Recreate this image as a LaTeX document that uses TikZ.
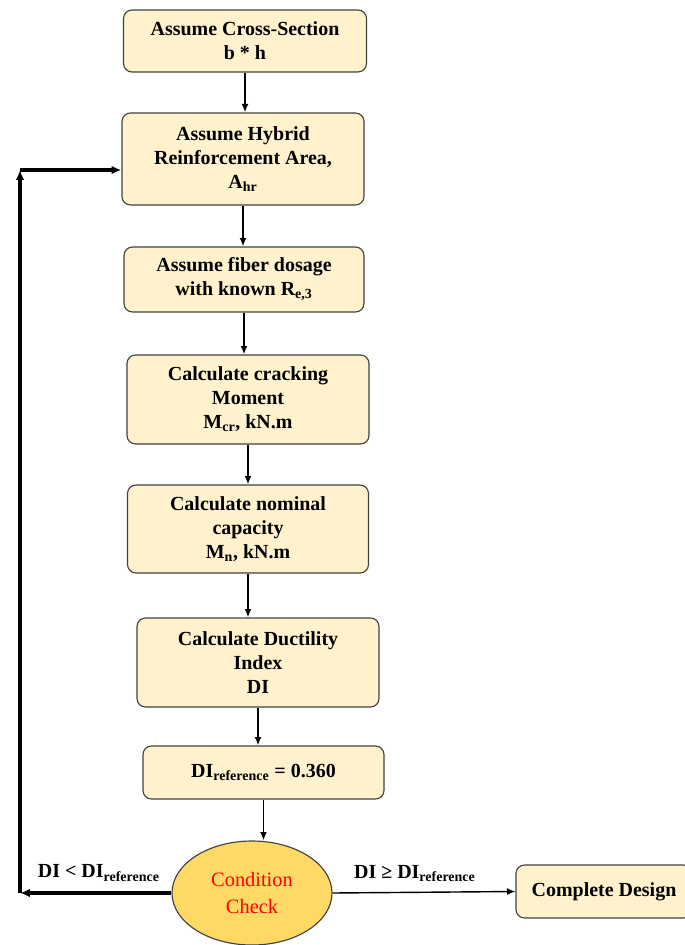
\documentclass[tikz,border=0pt]{standalone}
\usepackage{fontspec}
\setmainfont{Liberation Serif}
\usetikzlibrary{shapes.geometric}
\usetikzlibrary{arrows.meta}
\definecolor{boxfill}{HTML}{FFF2CC}
\definecolor{checkfill}{HTML}{FFD966}
\tikzset{
  stepbox/.style={draw=black!75, fill=boxfill, rounded corners=6pt, thick, align=center,
    font=\bfseries\fontsize{14.2}{17}\selectfont, inner sep=2pt},
  arr/.style={-{Latex[length=6pt,width=5pt]}, line width=1.3pt},
  loop/.style={-{Latex[length=7pt,width=6pt]}, line width=2.2pt}
}
\begin{document}
\begin{tikzpicture}[x=0.025cm, y=-0.025cm]
                \useasboundingbox (0,0) rectangle (684,945);

                \node[stepbox, minimum width=243*0.025cm, minimum height=62*0.025cm] (cross) at (245,41) {Assume Cross-Section\\b * h};
                \node[stepbox, minimum width=242*0.025cm, minimum height=92*0.025cm] (hybrid) at (243,159) {Assume Hybrid\\Reinforcement Area,\\A\textsubscript{hr}};
                \node[stepbox, minimum width=240*0.025cm, minimum height=65*0.025cm] (fiber) at (244,279.5) {Assume fiber dosage\\with known R\textsubscript{e,3}};
                \node[stepbox, minimum width=242*0.025cm, minimum height=89*0.025cm] (crack) at (248,399.5) {Calculate cracking\\Moment\\M\textsubscript{cr}, kN.m};
                \node[stepbox, minimum width=241*0.025cm, minimum height=88*0.025cm] (nominal) at (248,529) {Calculate nominal\\capacity\\M\textsubscript{n}, kN.m};
                \node[stepbox, minimum width=242*0.025cm, minimum height=89*0.025cm] (ductility) at (258,662.5) {Calculate Ductility\\Index\\DI};
                \node[stepbox, minimum width=241*0.025cm, minimum height=53*0.025cm] (diref) at (263.5,772.5) {DI\textsubscript{reference} = 0.360};
                \node[ellipse, draw=black!75, fill=checkfill, thick, minimum width=160*0.025cm, minimum height=104*0.025cm,
                    align=center, text=red, font=\fontsize{14.5}{19.5}\selectfont] (check) at (252,893) {Condition\\Check};
                \node[stepbox, minimum width=176*0.025cm, minimum height=53*0.025cm] (done) at (604,891.5) {Complete Design};

                % main chain
                \draw[arr] (cross.south) -- (cross.south |- hybrid.north);
                \draw[arr] (hybrid.south) -- (hybrid.south |- fiber.north);
                \draw[arr] (fiber.south) -- (fiber.south |- crack.north);
                \draw[arr] (crack.south) -- (crack.south |- nominal.north);
                \draw[arr] (nominal.south) -- (nominal.south |- ductility.north);
                \draw[arr] (ductility.south) -- (ductility.south |- diref.north);
                \draw[arr] (diref.south) -- (diref.south |- check.north);

                % loop back
                \coordinate (low) at (20,893);
                \coordinate (high) at (20,170);
                \draw[loop] (check.west) -- (low) node[pos=0.48, above=4pt, font=\bfseries\fontsize{14.2}{17}\selectfont]{DI < DI\textsubscript{reference}};
                \draw[loop] (low) -- (high);
                \draw[loop] (high) -- (high -| hybrid.west);

                \draw[arr, line width=1pt] (check.east) -- (done.west) node[pos=0.45, above=4pt, font=\bfseries\fontsize{14.2}{17}\selectfont]{DI ≥ DI\textsubscript{reference}};
            \end{tikzpicture}
\end{document}
